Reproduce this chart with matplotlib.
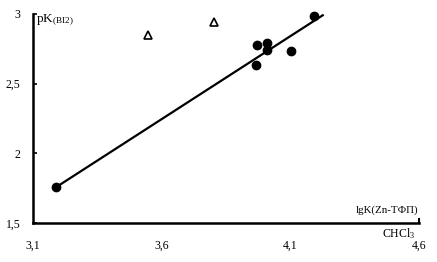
import numpy as np
import matplotlib
matplotlib.use("Agg")
import matplotlib.pyplot as plt

plt.rcParams['font.family'] = 'Liberation Serif'
plt.rcParams['mathtext.fontset'] = 'custom'
plt.rcParams['mathtext.rm'] = 'Liberation Serif'
plt.rcParams['mathtext.it'] = 'Liberation Serif'

# data
circle_x = [3.19, 3.97, 4.01, 4.01, 3.965, 4.10, 4.19]
circle_y = [1.757, 2.775, 2.79, 2.74, 2.63, 2.735, 2.985]
tri_x = [3.547, 3.803]
tri_y = [2.85, 2.94]
fit_x = [3.19, 4.225]
fit_y = [1.757, 2.99]

xticks = [3.1, 3.6, 4.1, 4.6]
xtick_labels = ['3,1', '3,6', '4,1', '4,6']
yticks = [1.5, 2, 2.5, 3]
ytick_labels = ['1,5', '2', '2,5', '3']

fig = plt.figure(figsize=(4.37, 2.62), dpi=100)
ax = fig.add_axes([0.0755, 0.149, 0.884, 0.798])

ax.plot(fit_x, fit_y, color='black', lw=1.6, zorder=2, clip_on=False)
ax.plot(circle_x, circle_y, 'o', color='black', ms=6, zorder=3, clip_on=False)
ax.plot(tri_x, tri_y, '^', mfc='white', mec='black', mew=1.2, ms=5.5, zorder=3, clip_on=False)

ax.set_xlim(3.1, 4.6)
ax.set_ylim(1.5, 3.0)
ax.set_xticks(xticks)
ax.set_xticklabels(xtick_labels)
ax.set_yticks(yticks)
ax.set_yticklabels(ytick_labels)
ax.tick_params(axis='x', direction='in', length=0, pad=12, labelsize=8.5)
ax.tick_params(axis='y', direction='in', length=3, width=1.2, pad=9, labelsize=8.5)

for s in ['top', 'right']:
    ax.spines[s].set_visible(False)
for s in ['left', 'bottom']:
    ax.spines[s].set_linewidth(1.8)

# small end tick at the right of the x axis
ax.plot([4.6, 4.6], [1.5, 1.53], color='black', lw=1.5, clip_on=False)

ax.text(3.112, 2.955, r'pK$_{\rm (BI2)}$', fontsize=9.5, ha='left', va='center')
ax.text(4.597, 1.555, 'lgK(Zn-TФП)', fontsize=7.8, ha='right', va='bottom')
ax.text(4.585, 1.48, r'CHCl$_3$', fontsize=8.5, ha='right', va='top')

fig.savefig('out.png', dpi=100)
